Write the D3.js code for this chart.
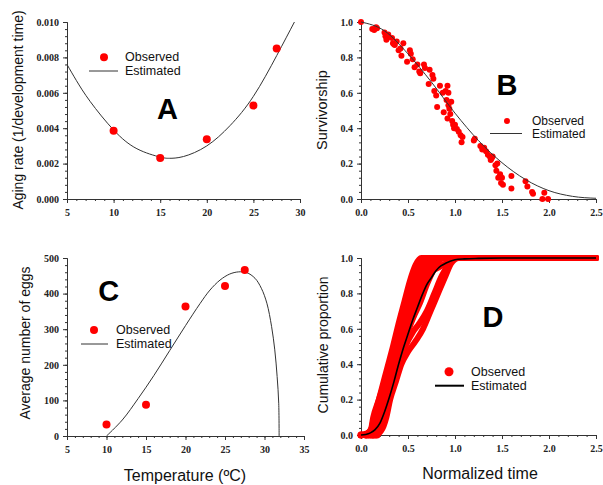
<!DOCTYPE html>
<html><head><meta charset="utf-8">
<script src="https://cdn.jsdelivr.net/npm/d3@7"></script>
<style>
body{margin:0;background:#fff;}
svg{display:block;}
.tk text{font-family:"Liberation Serif","Times New Roman",serif;font-weight:bold;font-size:10px;fill:#222;}
.tk path,.tk line{stroke:#333;}
.ttl{font-family:"Liberation Sans",Arial,sans-serif;fill:#111;}
.lg{font-family:"Liberation Sans",Arial,sans-serif;font-size:12.5px;fill:#111;}
.let{font-family:"Liberation Sans",Arial,sans-serif;font-weight:bold;font-size:29px;fill:#000;text-anchor:middle;}
</style></head>
<body>
<svg id="c" width="603" height="485"></svg>
<script>
// ---------- Panel A data ----------
const tempA = [10, 15, 20, 25, 27.5];
const obsA = [0.00385, 0.00232, 0.00338, 0.00528, 0.0085];
const estTempA = [5, 6, 7.5, 10, 12.5, 15, 16, 17.5, 20, 22.5, 25, 27.5, 29.4];
const estA = [0.0076, 0.0067, 0.0055, 0.0039, 0.00284, 0.00237, 0.0023, 0.0024, 0.0030, 0.00415, 0.0058, 0.0081, 0.0100];
const ticksAx = [5, 10, 15, 20, 25, 30];
const ticksAy = [0, 0.002, 0.004, 0.006, 0.008, 0.010];

// ---------- Panel B data ----------
const obsB = [[0,1.0],[0.12,0.96],[0.14,0.955],[0.16,0.97],[0.17,0.965],
[0.25,0.94],[0.26,0.92],[0.27,0.9],[0.29,0.93],[0.28,0.91],
[0.33,0.91],[0.34,0.88],[0.36,0.87],[0.38,0.89],[0.35,0.875],
[0.4,0.84],[0.42,0.85],[0.43,0.81],[0.45,0.88],[0.49,0.775],
[0.52,0.84],[0.53,0.82],[0.55,0.79],[0.57,0.745],[0.6,0.76],[0.62,0.72],[0.63,0.71],
[0.67,0.76],[0.68,0.74],[0.72,0.65],[0.73,0.73],[0.76,0.7],[0.77,0.68],[0.78,0.61],
[0.8,0.585],[0.81,0.52],[0.84,0.64],[0.87,0.6],[0.88,0.49],[0.9,0.61],[0.91,0.56],[0.92,0.64],[0.93,0.6],[0.93,0.53],[0.94,0.51],[0.92,0.455],[0.95,0.48],[0.96,0.55],
[0.97,0.44],[0.98,0.42],[0.99,0.4],[1.0,0.42],[1.02,0.395],[1.04,0.38],[1.06,0.36],[1.07,0.32],[1.08,0.35],
[1.2,0.33],[1.21,0.34],[1.27,0.3],[1.29,0.28],[1.31,0.29],[1.33,0.27],[1.35,0.25],[1.37,0.24],[1.39,0.23],[1.4,0.24],[1.38,0.22],
[1.43,0.19],[1.45,0.2],[1.44,0.16],[1.46,0.12],[1.48,0.14],[1.5,0.12],[1.49,0.09],[1.51,0.08],
[1.6,0.13],[1.6,0.06],[1.75,0.1],[1.77,0.07],[1.82,0.04],[1.83,0.03],[1.95,0.035],[1.93,0.0],[1.99,0.0]];
const estTimeB = [0, 0.25, 0.5, 0.75, 1.0, 1.25, 1.5, 1.75, 2.0, 2.25, 2.5];
const estB = [1.0, 0.95, 0.82, 0.66, 0.485, 0.33, 0.205, 0.11, 0.047, 0.015, 0.004];
const ticksT = [0, 0.5, 1.0, 1.5, 2.0, 2.5];
const ticksP = [0, 0.2, 0.4, 0.6, 0.8, 1.0];

// ---------- Panel C data ----------
const tempC = [10, 15, 20, 25, 27.5];
const obsC = [32, 88, 364, 421, 466];
const estTempC = [10, 12, 14, 16, 18, 20, 21.84, 23.1, 24.37, 25.6, 26.7, 27.75, 28.8, 29.6, 30.3, 30.9, 31.3, 31.6, 31.8, 31.85];
const estC = [0, 45, 105, 170, 240, 310, 372, 410, 438, 455, 461, 459, 443, 415, 373, 307, 242, 167, 92, 0];
const ticksCx = [5, 10, 15, 20, 25, 30, 35];
const ticksCy = [0, 100, 200, 300, 400, 500];

// ---------- Panel D data ----------
const obsD = [
 [[0,0],[0.1,0.02],[0.13,0.1],[0.19,0.2],[0.25,0.3],[0.3,0.4],[0.36,0.5],[0.42,0.6],[0.48,0.7],[0.54,0.8],[0.6,0.9],[0.66,0.98],[0.7,1.0],[2.5,1.0]],
 [[0.05,0],[0.14,0.05],[0.17,0.1],[0.22,0.2],[0.27,0.3],[0.32,0.4],[0.38,0.5],[0.44,0.6],[0.5,0.7],[0.56,0.8],[0.62,0.9],[0.7,0.99],[0.75,1.0],[2.5,1.0]],
 [[0.1,0],[0.17,0.05],[0.2,0.1],[0.25,0.2],[0.3,0.3],[0.35,0.4],[0.41,0.5],[0.47,0.6],[0.53,0.7],[0.6,0.8],[0.66,0.9],[0.74,0.98],[0.8,1.0],[2.5,1.0]],
 [[0.12,0],[0.19,0.05],[0.22,0.1],[0.27,0.2],[0.32,0.3],[0.37,0.4],[0.43,0.5],[0.49,0.6],[0.55,0.7],[0.61,0.78],[0.68,0.88],[0.76,0.96],[0.84,1.0],[2.5,1.0]],
 [[0.13,0],[0.2,0.05],[0.24,0.1],[0.29,0.2],[0.34,0.3],[0.39,0.4],[0.45,0.5],[0.51,0.6],[0.57,0.68],[0.63,0.75],[0.7,0.85],[0.78,0.94],[0.88,1.0],[2.5,1.0]],
 [[0.15,0],[0.22,0.05],[0.26,0.1],[0.3,0.2],[0.35,0.3],[0.4,0.4],[0.47,0.5],[0.55,0.58],[0.62,0.63],[0.7,0.7],[0.78,0.8],[0.86,0.9],[0.93,0.96],[1.0,1.0],[2.5,1.0]],
 [[0.17,0],[0.24,0.05],[0.27,0.1],[0.31,0.2],[0.37,0.3],[0.43,0.4],[0.5,0.47],[0.58,0.53],[0.66,0.6],[0.74,0.7],[0.82,0.8],[0.9,0.9],[0.96,0.97],[1.04,1.0],[2.5,1.0]],
 [[0.08,0],[0.15,0.06],[0.2,0.15],[0.26,0.28],[0.32,0.42],[0.38,0.55],[0.44,0.66],[0.5,0.78],[0.56,0.88],[0.62,0.95],[0.66,0.99],[0.72,1.0],[2.5,1.0]],
 [[0.06,0],[0.15,0.08],[0.21,0.2],[0.27,0.33],[0.33,0.46],[0.4,0.58],[0.47,0.7],[0.55,0.85],[0.62,0.92],[0.7,0.93],[0.8,0.94],[0.9,0.97],[1.0,1.0],[2.5,1.0]],
 [[0.0,0],[0.08,0.0],[0.15,0.12],[0.22,0.26],[0.28,0.38],[0.34,0.5],[0.4,0.63],[0.46,0.75],[0.52,0.87],[0.58,0.96],[0.64,1.0],[2.5,1.0]]
];
const estTimeD = [0, 0.05, 0.1, 0.15, 0.2, 0.25, 0.3, 0.35, 0.4, 0.45, 0.5, 0.55, 0.6, 0.65, 0.7, 0.75, 0.8, 0.85, 0.9, 1.0, 1.1, 1.25, 1.5, 2.0, 2.5];
const estD = [0, 0.003, 0.012, 0.03, 0.065, 0.13, 0.21, 0.3, 0.4, 0.49, 0.57, 0.65, 0.72, 0.79, 0.85, 0.89, 0.93, 0.955, 0.97, 0.99, 0.995, 0.998, 1, 1, 1];

const svg = d3.select("#c");
const RED = "#ff0000";

function axes(x, y, xt, yt, xMinorStep, yMinorStep, xfmt, yfmt) {
  const [x0, x1] = x.domain(), [y0, y1] = y.domain();
  const xr = y.range()[0], yr = x.range()[0];
  const xm = d3.range(x0, x1 + 1e-9, xMinorStep).map(v => +v.toFixed(6));
  const ym = d3.range(y0, y1 + 1e-12, yMinorStep).map(v => +v.toFixed(8));
  svg.append("g").attr("class", "tk").attr("transform", `translate(0,${xr})`)
    .call(d3.axisBottom(x).tickValues(xm).tickSize(2).tickFormat(""));
  svg.append("g").attr("class", "tk").attr("transform", `translate(${yr},0)`)
    .call(d3.axisLeft(y).tickValues(ym).tickSize(2).tickFormat(""));
  svg.append("g").attr("class", "tk").attr("transform", `translate(0,${xr})`)
    .call(d3.axisBottom(x).tickValues(xt).tickSize(4).tickPadding(6).tickFormat(xfmt).tickSizeOuter(0));
  svg.append("g").attr("class", "tk").attr("transform", `translate(${yr},0)`)
    .call(d3.axisLeft(y).tickValues(yt).tickSize(4).tickPadding(4).tickFormat(yfmt).tickSizeOuter(0));
}

function vtitle(x, y, txt, size) {
  svg.append("text").attr("class", "ttl").attr("transform", `translate(${x},${y}) rotate(-90)`)
    .attr("text-anchor", "middle").attr("dominant-baseline", "central").style("font-size", size + "px").text(txt);
}

function legend(cx, cy, r, lx0, lx1, ly, tx, lineColor, lineW, fs) {
  svg.append("circle").attr("cx", cx).attr("cy", cy).attr("r", r).attr("fill", RED);
  svg.append("text").attr("class", "lg").attr("x", tx).attr("y", cy).attr("dominant-baseline", "central")
    .style("font-size", (fs || 12.5) + "px").text("Observed");
  svg.append("line").attr("x1", lx0).attr("x2", lx1).attr("y1", ly).attr("y2", ly).attr("stroke", lineColor).attr("stroke-width", lineW);
  svg.append("text").attr("class", "lg").attr("x", tx).attr("y", ly).attr("dominant-baseline", "central")
    .style("font-size", (fs || 12.5) + "px").text("Estimated");
}

// ===== Panel A =====
{
  const x = d3.scaleLinear().domain([5, 30]).range([67, 300]);
  const y = d3.scaleLinear().domain([0, 0.010]).range([199, 22]);
  axes(x, y, ticksAx, ticksAy, 1, 0.0004, d3.format("d"), d3.format(".3f"));
  const line = d3.line().x((d, i) => x(estTempA[i])).y(d => y(d)).curve(d3.curveNatural);
  svg.append("path").attr("d", line(estA)).attr("fill", "none").attr("stroke", "#333").attr("stroke-width", 1);
  svg.append("g").selectAll("circle").data(obsA).join("circle")
    .attr("cx", (d, i) => x(tempA[i])).attr("cy", d => y(d)).attr("r", 4).attr("fill", RED);
  vtitle(18, 110, "Aging rate (1/development time)", 14);
  svg.append("text").attr("class", "let").attr("x", 167.5).attr("y", 119).text("A");
  legend(104, 57.3, 4, 89, 118, 71, 125, "#333", 1);
}

// ===== Panel B =====
{
  const x = d3.scaleLinear().domain([0, 2.5]).range([361, 596]);
  const y = d3.scaleLinear().domain([0, 1]).range([199, 22]);
  axes(x, y, ticksT, ticksP, 0.1, 0.04, d3.format(".1f"), d3.format(".1f"));
  const line = d3.line().x((d, i) => x(estTimeB[i])).y(d => y(d)).curve(d3.curveMonotoneX);
  svg.append("g").selectAll("circle").data(obsB).join("circle")
    .attr("cx", d => x(d[0])).attr("cy", d => y(d[1])).attr("r", 3).attr("fill", RED);
  svg.append("path").attr("d", line(estB)).attr("fill", "none").attr("stroke", "#333").attr("stroke-width", 1);
  vtitle(322, 110, "Survivorship", 14.5);
  svg.append("text").attr("class", "let").attr("x", 507).attr("y", 95).text("B");
  legend(507, 121, 3, 490, 522, 133.5, 532, "#333", 1, 12);
}

// ===== Panel C =====
{
  const x = d3.scaleLinear().domain([5, 35]).range([67, 304]);
  const y = d3.scaleLinear().domain([0, 500]).range([436, 258]);
  axes(x, y, ticksCx, ticksCy, 1, 20, d3.format("d"), d3.format("d"));
  const line = d3.line().x((d, i) => x(estTempC[i])).y(d => y(d)).curve(d3.curveCatmullRom.alpha(0.5));
  svg.append("path").attr("d", line(estC)).attr("fill", "none").attr("stroke", "#333").attr("stroke-width", 1);
  svg.append("g").selectAll("circle").data(obsC).join("circle")
    .attr("cx", (d, i) => x(tempC[i])).attr("cy", d => y(d)).attr("r", 4).attr("fill", RED);
  vtitle(25, 343, "Average number of eggs", 14);
  svg.append("text").attr("class", "ttl").attr("x", 185).attr("y", 475).attr("text-anchor", "middle")
    .attr("dominant-baseline", "central").style("font-size", "16px").text("Temperature (ºC)");
  svg.append("text").attr("class", "let").attr("x", 108.7).attr("y", 301).text("C");
  legend(94, 330, 4, 81, 108, 344, 116, "#333", 1);
}

// ===== Panel D =====
{
  const x = d3.scaleLinear().domain([0, 2.5]).range([361, 596]);
  const y = d3.scaleLinear().domain([0, 1]).range([435, 258]);
  axes(x, y, ticksT, ticksP, 0.1, 0.04, d3.format(".1f"), d3.format(".1f"));
  const oline = d3.line().x(d => x(d[0])).y(d => y(d[1])).curve(d3.curveMonotoneX);
  svg.append("g").selectAll("path").data(obsD).join("path")
    .attr("d", d => oline(d)).attr("fill", "none").attr("stroke", RED).attr("stroke-width", 6)
    .attr("stroke-linecap", "round").attr("stroke-linejoin", "round");
  svg.append("g").selectAll("circle").data(obsD).join("circle")
    .attr("cx", d => x(d[0][0])).attr("cy", d => y(d[0][1])).attr("r", 3.5).attr("fill", RED);
  const line = d3.line().x((d, i) => x(estTimeD[i])).y(d => y(d)).curve(d3.curveMonotoneX);
  svg.append("path").attr("d", line(estD)).attr("fill", "none").attr("stroke", "#000").attr("stroke-width", 1.6);
  vtitle(322.7, 345, "Cumulative proportion", 14);
  svg.append("text").attr("class", "ttl").attr("x", 480).attr("y", 473).attr("text-anchor", "middle")
    .attr("dominant-baseline", "central").style("font-size", "16px").text("Normalized time");
  svg.append("text").attr("class", "let").attr("x", 493).attr("y", 327).text("D");
  legend(449, 371.7, 4.5, 435, 464, 385.7, 471, "#000", 2);
}
</script>
</body></html>
